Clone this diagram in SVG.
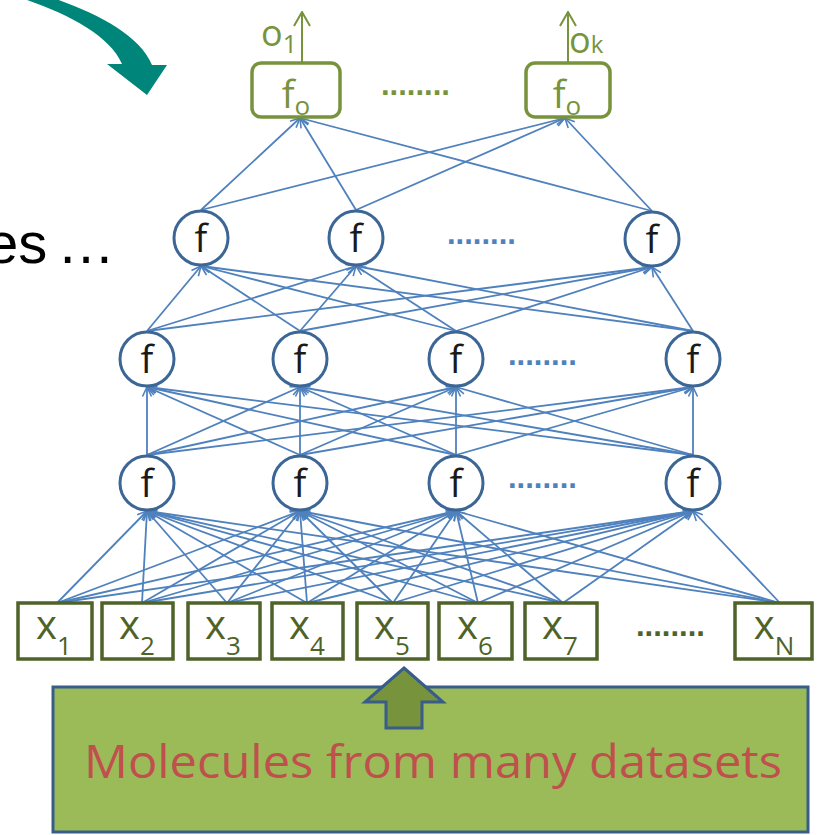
<svg xmlns="http://www.w3.org/2000/svg" width="817" height="835" viewBox="0 0 817 835">
<style>
.c{stroke:#4F81BD;stroke-width:1.8;fill:none;marker-end:url(#a)}
.oa{stroke:#77933C;stroke-width:2;fill:none;marker-end:url(#g)}
.n circle{fill:#fff;stroke:#3B6695;stroke-width:3}
.n text{font-family:"Open Sans","Liberation Sans",sans-serif;font-size:38px;fill:#1a1a1a;text-anchor:middle}
.o rect{fill:#fff;stroke:#77933C;stroke-width:3.5}
.o text{font-family:"Open Sans","Liberation Sans",sans-serif;font-size:38px;fill:#77933C;text-anchor:middle}
.i rect{fill:#fff;stroke:#4F6228;stroke-width:3.5}
.i text{font-family:"Open Sans","Liberation Sans",sans-serif;font-size:40px;fill:#4F6228;text-anchor:middle}
.sub{font-size:26px}
.dots{font-family:"Liberation Sans",sans-serif;font-weight:bold;font-size:31px}
.lbl{font-family:"Open Sans","Liberation Sans",sans-serif;font-size:36px;fill:#77933C}
</style>
<defs>
<marker id="a" viewBox="0 0 12 12" refX="11" refY="6" markerWidth="12" markerHeight="12" markerUnits="userSpaceOnUse" orient="auto">
<path d="M1.5,1.5 L11,6 L1.5,10.5" fill="none" stroke="#4F81BD" stroke-width="1.6"/>
</marker>
<marker id="g" viewBox="0 0 16 18" refX="15" refY="9" markerWidth="16" markerHeight="18" markerUnits="userSpaceOnUse" orient="auto">
<path d="M1,1 L15,9 L1,17" fill="none" stroke="#77933C" stroke-width="2"/>
</marker>
</defs>

<!-- teal curved arrow -->
<path id="teal-arrow" d="M50,-3 C95,12 140,35 152,65 L167,65 L147,95 L107,64 L122,64 C110,35 65,12 18,-3 Z" fill="#00857A"/>

<!-- clipped text -->
<text font-family="Liberation Sans, Arial, sans-serif" font-size="58" fill="#000"><tspan x="-14" y="263">es</tspan><tspan x="57" y="263">…</tspan></text>

<g id="connectors">
<!-- inputs to layer 1 -->
<line class="c" x1="57" y1="603" x2="147" y2="511"/>
<line class="c" x1="142" y1="603" x2="147" y2="511"/>
<line class="c" x1="227" y1="603" x2="147" y2="511"/>
<line class="c" x1="307" y1="603" x2="147" y2="511"/>
<line class="c" x1="393" y1="603" x2="147" y2="511"/>
<line class="c" x1="478" y1="603" x2="147" y2="511"/>
<line class="c" x1="563" y1="603" x2="147" y2="511"/>
<line class="c" x1="780" y1="603" x2="147" y2="511"/>
<line class="c" x1="57" y1="603" x2="300" y2="511"/>
<line class="c" x1="142" y1="603" x2="300" y2="511"/>
<line class="c" x1="227" y1="603" x2="300" y2="511"/>
<line class="c" x1="307" y1="603" x2="300" y2="511"/>
<line class="c" x1="393" y1="603" x2="300" y2="511"/>
<line class="c" x1="478" y1="603" x2="300" y2="511"/>
<line class="c" x1="563" y1="603" x2="300" y2="511"/>
<line class="c" x1="780" y1="603" x2="300" y2="511"/>
<line class="c" x1="57" y1="603" x2="456" y2="511"/>
<line class="c" x1="142" y1="603" x2="456" y2="511"/>
<line class="c" x1="227" y1="603" x2="456" y2="511"/>
<line class="c" x1="307" y1="603" x2="456" y2="511"/>
<line class="c" x1="393" y1="603" x2="456" y2="511"/>
<line class="c" x1="478" y1="603" x2="456" y2="511"/>
<line class="c" x1="563" y1="603" x2="456" y2="511"/>
<line class="c" x1="780" y1="603" x2="456" y2="511"/>
<line class="c" x1="57" y1="603" x2="693" y2="511"/>
<line class="c" x1="142" y1="603" x2="693" y2="511"/>
<line class="c" x1="227" y1="603" x2="693" y2="511"/>
<line class="c" x1="307" y1="603" x2="693" y2="511"/>
<line class="c" x1="393" y1="603" x2="693" y2="511"/>
<line class="c" x1="478" y1="603" x2="693" y2="511"/>
<line class="c" x1="563" y1="603" x2="693" y2="511"/>
<line class="c" x1="780" y1="603" x2="693" y2="511"/>
<!-- layer 1 to layer 2 -->
<line class="c" x1="147" y1="455" x2="147" y2="387"/>
<line class="c" x1="300" y1="455" x2="147" y2="387"/>
<line class="c" x1="456" y1="455" x2="147" y2="387"/>
<line class="c" x1="693" y1="455" x2="147" y2="387"/>
<line class="c" x1="147" y1="455" x2="300" y2="387"/>
<line class="c" x1="300" y1="455" x2="300" y2="387"/>
<line class="c" x1="456" y1="455" x2="300" y2="387"/>
<line class="c" x1="693" y1="455" x2="300" y2="387"/>
<line class="c" x1="147" y1="455" x2="456" y2="387"/>
<line class="c" x1="300" y1="455" x2="456" y2="387"/>
<line class="c" x1="456" y1="455" x2="456" y2="387"/>
<line class="c" x1="693" y1="455" x2="456" y2="387"/>
<line class="c" x1="147" y1="455" x2="693" y2="387"/>
<line class="c" x1="300" y1="455" x2="693" y2="387"/>
<line class="c" x1="456" y1="455" x2="693" y2="387"/>
<line class="c" x1="693" y1="455" x2="693" y2="387"/>
<!-- layer 2 to layer 3 -->
<line class="c" x1="147" y1="331" x2="201" y2="266"/>
<line class="c" x1="300" y1="331" x2="201" y2="266"/>
<line class="c" x1="456" y1="331" x2="201" y2="266"/>
<line class="c" x1="693" y1="331" x2="201" y2="266"/>
<line class="c" x1="147" y1="331" x2="356" y2="266"/>
<line class="c" x1="300" y1="331" x2="356" y2="266"/>
<line class="c" x1="456" y1="331" x2="356" y2="266"/>
<line class="c" x1="693" y1="331" x2="356" y2="266"/>
<line class="c" x1="147" y1="331" x2="652" y2="267"/>
<line class="c" x1="300" y1="331" x2="652" y2="267"/>
<line class="c" x1="456" y1="331" x2="652" y2="267"/>
<line class="c" x1="693" y1="331" x2="652" y2="267"/>
<!-- layer 3 to outputs -->
<line class="c" x1="201" y1="210" x2="300" y2="118"/>
<line class="c" x1="356" y1="210" x2="300" y2="118"/>
<line class="c" x1="652" y1="211" x2="300" y2="118"/>
<line class="c" x1="201" y1="210" x2="565" y2="118"/>
<line class="c" x1="356" y1="210" x2="565" y2="118"/>
<line class="c" x1="652" y1="211" x2="565" y2="118"/>
<!-- output arrows -->
<line class="oa" x1="302" y1="63" x2="302" y2="12"/>
<line class="oa" x1="568" y1="63" x2="568" y2="12"/>
</g>

<!-- output nodes -->
<g id="out1" class="o"><rect x="252" y="63" width="88" height="54" rx="9"/><text x="296" y="108">f<tspan font-size="26" dy="7">o</tspan></text></g>
<g id="outk" class="o"><rect x="526" y="63" width="84" height="54" rx="9"/><text x="567" y="108">f<tspan font-size="26" dy="7">o</tspan></text></g>
<text class="lbl" x="261" y="46">o<tspan font-size="25" dy="7">1</tspan></text>
<text class="lbl" x="569" y="53">o<tspan font-size="24" dy="0">k</tspan></text>
<text class="dots" x="381" y="95" fill="#77933C">........</text>

<!-- layer 3 -->
<g id="h3a" class="n"><circle cx="201" cy="238" r="27"/><text x="201" y="252">f</text></g>
<g id="h3b" class="n"><circle cx="356" cy="238" r="27"/><text x="356" y="252">f</text></g>
<g id="h3c" class="n"><circle cx="652" cy="239" r="27"/><text x="652" y="253">f</text></g>
<text class="dots" x="447" y="244" fill="#4F81BD">........</text>

<!-- layer 2 -->
<g id="h2a" class="n"><circle cx="147" cy="359" r="27"/><text x="147" y="373">f</text></g>
<g id="h2b" class="n"><circle cx="300" cy="359" r="27"/><text x="300" y="373">f</text></g>
<g id="h2c" class="n"><circle cx="456" cy="359" r="27"/><text x="456" y="373">f</text></g>
<g id="h2d" class="n"><circle cx="693" cy="359" r="27"/><text x="693" y="373">f</text></g>
<text class="dots" x="508" y="365" fill="#4F81BD">........</text>

<!-- layer 1 -->
<g id="h1a" class="n"><circle cx="147" cy="483" r="27"/><text x="147" y="497">f</text></g>
<g id="h1b" class="n"><circle cx="300" cy="483" r="27"/><text x="300" y="497">f</text></g>
<g id="h1c" class="n"><circle cx="456" cy="483" r="27"/><text x="456" y="497">f</text></g>
<g id="h1d" class="n"><circle cx="693" cy="483" r="27"/><text x="693" y="497">f</text></g>
<text class="dots" x="508" y="488" fill="#4F81BD">........</text>

<!-- inputs -->
<g id="x1" class="i"><rect x="18" y="603" width="74" height="56"/><text x="54" y="639">x<tspan class="sub" dy="16">1</tspan></text></g>
<g id="x2" class="i"><rect x="102" y="603" width="71" height="56"/><text x="137" y="639">x<tspan class="sub" dy="16">2</tspan></text></g>
<g id="x3" class="i"><rect x="188" y="603" width="72" height="56"/><text x="223" y="639">x<tspan class="sub" dy="16">3</tspan></text></g>
<g id="x4" class="i"><rect x="272" y="603" width="71" height="56"/><text x="307" y="639">x<tspan class="sub" dy="16">4</tspan></text></g>
<g id="x5" class="i"><rect x="357" y="603" width="71" height="56"/><text x="392" y="639">x<tspan class="sub" dy="16">5</tspan></text></g>
<g id="x6" class="i"><rect x="439" y="603" width="73" height="56"/><text x="475" y="639">x<tspan class="sub" dy="16">6</tspan></text></g>
<g id="x7" class="i"><rect x="525" y="603" width="72" height="56"/><text x="560" y="639">x<tspan class="sub" dy="16">7</tspan></text></g>
<g id="xN" class="i"><rect x="735" y="603" width="77" height="56"/><text x="774" y="639">x<tspan class="sub" dy="16">N</tspan></text></g>
<text class="dots" x="636" y="636" fill="#4F6228">........</text>

<!-- molecules box -->
<g id="molecules">
<rect x="53" y="687" width="755" height="145" fill="#9BBB59" stroke="#385D8A" stroke-width="3"/>
<polygon points="404,668 443,702 422,702 422,728 386,728 386,702 365,702" fill="#77933C" stroke="#385D8A" stroke-width="3" stroke-linejoin="miter"/>
<text x="84" y="778" font-family="Open Sans, Liberation Sans, sans-serif" font-size="46" fill="#C0504D" textLength="698" lengthAdjust="spacingAndGlyphs">Molecules from many datasets</text>
</g>
</svg>
